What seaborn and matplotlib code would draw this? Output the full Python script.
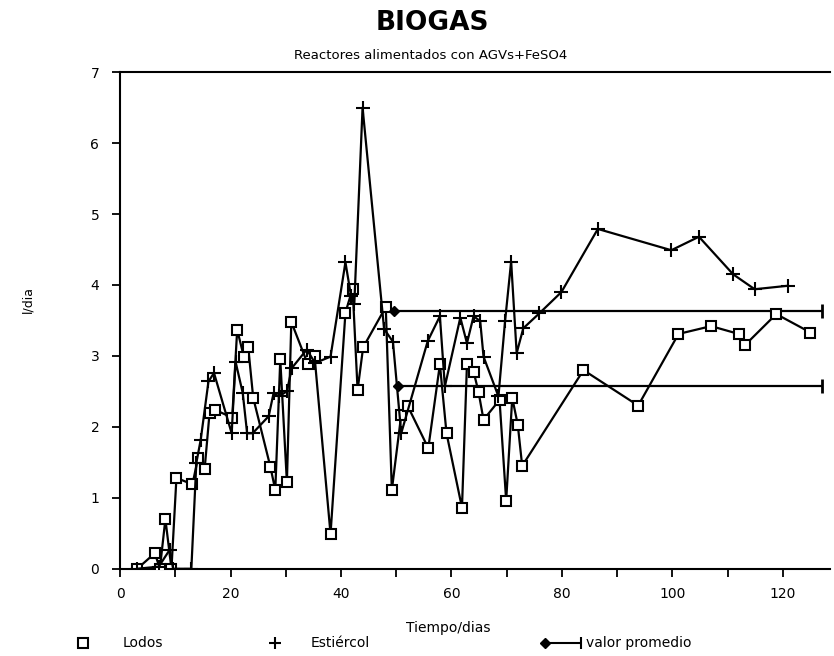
import matplotlib
matplotlib.use("Agg")
import matplotlib.pyplot as plt
from matplotlib.lines import Line2D
import seaborn as sns
import pandas as pd

# ---- data ----
lodos_dias = [3.1, 6.3, 7.2, 8.2, 9.3, 10.2, 13.1, 14.1, 15.3, 16.2, 17.2, 20.3, 21.2, 22.4,
              23.2, 24.1, 27.2, 28.1, 29.0, 30.2, 31.0, 34.0, 35.2, 38.1, 40.8, 42.1, 43.0,
              44.0, 48.1, 49.2, 50.9, 52.1, 55.8, 57.9, 59.1, 61.9, 62.8, 64.0, 64.9, 65.8,
              68.7, 69.9, 71.0, 72.0, 72.8, 83.9, 93.8, 101.1, 107.0, 112.0, 113.1, 118.8, 125.0]
lodos_biogas = [0.0, 0.22, 0.0, 0.70, 0.0, 1.28, 1.19, 1.56, 1.40, 2.20, 2.24, 2.13, 3.37, 2.99,
                3.12, 2.41, 1.44, 1.11, 2.95, 1.22, 3.48, 2.88, 3.00, 0.49, 3.61, 3.95, 2.52,
                3.12, 3.69, 1.11, 2.17, 2.29, 1.70, 2.88, 1.91, 0.86, 2.88, 2.78, 2.49, 2.10,
                2.38, 0.96, 2.41, 2.03, 1.45, 2.80, 2.30, 3.31, 3.42, 3.31, 3.15, 3.59, 3.33]

estiercol_dias = [3.1, 7.0, 9.0, 9.6, 12.9, 13.8, 14.6, 16.0, 17.0, 20.2, 20.9, 22.2, 23.0, 24.0,
                  26.9, 27.8, 28.7, 30.2, 31.1, 33.8, 35.3, 38.1, 40.8, 41.8, 42.4, 43.9, 47.8,
                  49.4, 50.9, 55.7, 57.9, 58.8, 61.6, 62.8, 64.0, 65.2, 65.8, 68.5, 69.7, 70.8,
                  71.8, 73.0, 75.9, 79.9, 86.5, 99.8, 104.8, 111.0, 114.9, 121.0]
estiercol_biogas = [0.0, 0.03, 0.27, 0.0, 0.0, 1.49, 1.82, 2.64, 2.76, 1.91, 2.92, 2.48, 1.91, 1.91,
                    2.15, 2.48, 2.43, 2.50, 2.83, 3.09, 2.90, 2.99, 4.32, 3.85, 3.73, 6.50, 3.38,
                    3.20, 1.91, 3.21, 3.56, 2.57, 3.54, 3.18, 3.56, 3.49, 2.99, 2.43, 3.49, 4.33,
                    3.04, 3.39, 3.60, 3.90, 4.79, 4.49, 4.68, 4.15, 3.94, 3.99]

prom_lodos_dias = [50.4, 127.0]
prom_lodos = [2.57, 2.57]
prom_estiercol_dias = [49.6, 127.0]
prom_estiercol = [3.63, 3.63]

x_ticks = [0, 20, 40, 60, 80, 100, 120]
y_ticks = [0, 1, 2, 3, 4, 5, 6, 7]

# ---- figure ----
sns.set_theme(style="white")
FONT = ['Liberation Sans Narrow', 'DejaVu Sans']
plt.rcParams['font.family'] = FONT
plt.rcParams['text.color'] = 'black'
plt.rcParams['xtick.color'] = 'black'
plt.rcParams['ytick.color'] = 'black'

fig = plt.figure(figsize=(8.34, 6.56), dpi=100)
ax = fig.add_axes([0.144, 0.133, 0.851, 0.757])

df_l = pd.DataFrame({"dias": lodos_dias, "biogas": lodos_biogas})
df_e = pd.DataFrame({"dias": estiercol_dias, "biogas": estiercol_biogas})

sns.lineplot(data=df_l, x="dias", y="biogas", sort=False, estimator=None, ax=ax,
             color="black", lw=1.6, marker="s", markersize=7, markerfacecolor="white",
             markeredgecolor="black", markeredgewidth=1.5, zorder=3)
sns.lineplot(data=df_e, x="dias", y="biogas", sort=False, estimator=None, ax=ax,
             color="black", lw=1.6, marker="+", markersize=10,
             markeredgecolor="black", markeredgewidth=1.5, zorder=3)

for xs, ys in [(prom_lodos_dias, prom_lodos), (prom_estiercol_dias, prom_estiercol)]:
    sns.lineplot(x=xs, y=ys, sort=False, estimator=None, ax=ax, color="black", lw=1.6, zorder=2)
    ax.plot(xs[:1], ys[:1], marker="D", color="black", markersize=5, ls="none", zorder=4)
    ax.plot(xs[1:], ys[1:], marker="|", color="black", markersize=10, markeredgewidth=2,
            ls="none", zorder=4)

ax.set_xlim(0, 128.5)
ax.set_ylim(0, 7)
ax.set_xticks(x_ticks)
ax.set_xticks(range(10, 130, 20), minor=True)
ax.set_yticks(y_ticks)
ax.tick_params(axis="both", which="both", direction="out", length=6, width=1.3,
               color="black", labelcolor="black", labelsize=10, bottom=True, left=True)
ax.tick_params(axis="x", pad=7)
ax.tick_params(axis="y", pad=9)
for s in ["left", "bottom", "top"]:
    ax.spines[s].set_color("black")
    ax.spines[s].set_linewidth(1.5)
ax.spines["right"].set_visible(False)
ax.set_xlabel("")
ax.set_ylabel("")

fig.text(0.518, 0.965, "BIOGAS", ha="center", va="center", fontsize=19, fontweight="bold")
fig.text(0.516, 0.915, "Reactores alimentados con AGVs+FeSO4", ha="center", va="center",
         fontsize=9.5)
fig.text(0.034, 0.543, "l/dia", ha="center", va="center", rotation=90, fontsize=9)
fig.text(0.537, 0.043, "Tiempo/dias", ha="center", va="center", fontsize=10)

# legend row
ly = 0.020
fig.add_artist(Line2D([0.0995], [ly], marker="s", markersize=7, markerfacecolor="white",
                      markeredgecolor="black", markeredgewidth=1.5, ls="none",
                      transform=fig.transFigure))
fig.text(0.147, ly, "Lodos", ha="left", va="center", fontsize=10)
fig.add_artist(Line2D([0.330], [ly], marker="+", markersize=8, markeredgewidth=1.5,
                      color="black", ls="none", transform=fig.transFigure))
fig.text(0.372, ly, "Estiércol", ha="left", va="center", fontsize=10)
fig.add_artist(Line2D([0.653, 0.697], [ly, ly], color="black", lw=1.5,
                      transform=fig.transFigure))
fig.add_artist(Line2D([0.653], [ly], marker="D", markersize=5, color="black", ls="none",
                      transform=fig.transFigure))
fig.add_artist(Line2D([0.697], [ly], marker="|", markersize=8, markeredgewidth=1.5,
                      color="black", ls="none", transform=fig.transFigure))
fig.text(0.703, ly, "valor promedio", ha="left", va="center", fontsize=10)

fig.savefig("out.png", dpi=100)
